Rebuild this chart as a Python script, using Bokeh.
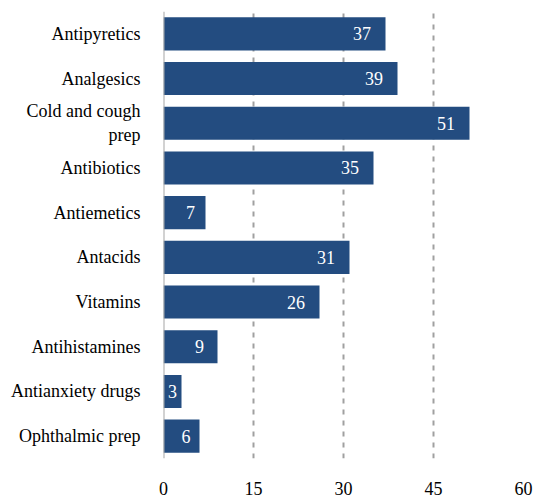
import numpy as np
from bokeh.plotting import figure
from bokeh.models import ColumnDataSource, FixedTicker, Span
from bokeh.core.properties import value
from bokeh.embed import file_html
from bokeh.resources import INLINE

categories = ["Antipyretics", "Analgesics", "Cold and cough\nprep", "Antibiotics",
              "Antiemetics", "Antacids", "Vitamins", "Antihistamines",
              "Antianxiety drugs", "Ophthalmic prep"]
values = [37, 39, 51, 35, 7, 31, 26, 9, 3, 6]
x_ticks = [0, 15, 30, 45, 60]

FONT = "Liberation Serif"
BAR = "#234C80"

vals = np.array(values, dtype=float)
label_x = np.maximum(vals - 2.4, vals * 0.75)
src = ColumnDataSource(dict(cat=categories, val=values, lx=label_x,
                            txt=[str(v) for v in values]))

p = figure(width=534, height=497, y_range=list(reversed(categories)),
           x_range=(0, 60), output_backend="svg", toolbar_location=None,
           min_border_left=163, min_border_right=11, min_border_top=11,
           min_border_bottom=39)
p.outline_line_color = None
p.background_fill_color = "white"

p.hbar(y="cat", right="val", left=0, height=0.74, source=src,
       fill_color=BAR, line_color=None)
p.text(x="lx", y="cat", text="txt", source=src, text_align="right",
       text_baseline="middle", text_color="white",
       text_font=value(FONT), text_font_size="18px")

p.xaxis.ticker = FixedTicker(ticks=x_ticks)
p.xaxis.axis_line_color = None
p.xaxis.major_tick_line_color = None
p.xaxis.minor_tick_line_color = None
p.xaxis.major_tick_out = 0
p.xaxis.major_label_standoff = 23
p.xaxis.major_label_text_line_height = 0.5
p.xaxis.major_label_text_font = FONT
p.xaxis.major_label_text_font_size = "18px"
p.xaxis.major_label_text_color = "#000000"

p.yaxis.axis_line_color = None
p.yaxis.major_tick_line_color = None
p.yaxis.minor_tick_line_color = None
p.yaxis.major_tick_out = 0
p.yaxis.major_label_standoff = 23
p.yaxis.major_label_text_font = FONT
p.yaxis.major_label_text_font_size = "18px"
p.yaxis.major_label_text_color = "#000000"
p.yaxis.major_label_text_align = "right"

p.ygrid.grid_line_color = None
p.xgrid.ticker = FixedTicker(ticks=x_ticks[1:])
p.xgrid.grid_line_color = "#A0A0A0"
p.xgrid.grid_line_width = 2
p.xgrid.grid_line_dash = "5 6"

p.add_layout(Span(location=0, dimension="height", line_color="#A6A6A6",
                  line_width=2))

open("out.html", "w").write(file_html(p, INLINE))
